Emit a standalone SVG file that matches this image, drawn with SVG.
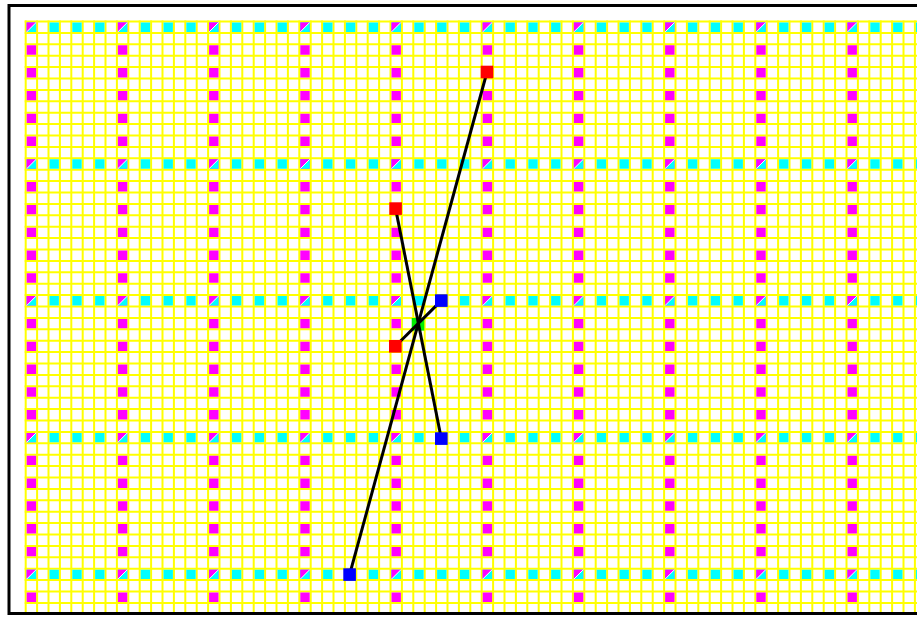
<svg xmlns="http://www.w3.org/2000/svg" width="917" height="617" viewBox="0 0 917 617">
<style>
.yl{stroke:#ffff00;stroke-dasharray:2 9.4;fill:none}
.edge{stroke:#000000;stroke-width:3;fill:none}
.red{fill:#ff0000}
.blue{fill:#0000ff}
.green{fill:#00ee00}
</style>
<defs>
<path id="mcol" fill="#ff00ff" d="M0 22.5h9.4v9.4h-9.4z m0 22.8h9.4v9.4h-9.4z m0 22.8h9.4v9.4h-9.4z m0 22.8h9.4v9.4h-9.4z m0 22.8h9.4v9.4h-9.4z m0 22.8h9.4v9.4h-9.4z m0 22.8h9.4v9.4h-9.4z m0 22.8h9.4v9.4h-9.4z m0 22.8h9.4v9.4h-9.4z m0 22.8h9.4v9.4h-9.4z m0 22.8h9.4v9.4h-9.4z m0 22.8h9.4v9.4h-9.4z m0 22.8h9.4v9.4h-9.4z m0 22.8h9.4v9.4h-9.4z m0 22.8h9.4v9.4h-9.4z m0 22.8h9.4v9.4h-9.4z m0 22.8h9.4v9.4h-9.4z m0 22.8h9.4v9.4h-9.4z m0 22.8h9.4v9.4h-9.4z m0 22.8h9.4v9.4h-9.4z m0 22.8h9.4v9.4h-9.4z m0 22.8h9.4v9.4h-9.4z m0 22.8h9.4v9.4h-9.4z m0 22.8h9.4v9.4h-9.4z m0 22.8h9.4v9.4h-9.4z m0 22.8h9.4v9.4h-9.4z"/>
<path id="crow" fill="#00ffff" d="M26.7 0h9.4v9.4h-9.4z m22.8 0h9.4v9.4h-9.4z m22.8 0h9.4v9.4h-9.4z m22.8 0h9.4v9.4h-9.4z m22.8 0h9.4v9.4h-9.4z m22.8 0h9.4v9.4h-9.4z m22.8 0h9.4v9.4h-9.4z m22.8 0h9.4v9.4h-9.4z m22.8 0h9.4v9.4h-9.4z m22.8 0h9.4v9.4h-9.4z m22.8 0h9.4v9.4h-9.4z m22.8 0h9.4v9.4h-9.4z m22.8 0h9.4v9.4h-9.4z m22.8 0h9.4v9.4h-9.4z m22.8 0h9.4v9.4h-9.4z m22.8 0h9.4v9.4h-9.4z m22.8 0h9.4v9.4h-9.4z m22.8 0h9.4v9.4h-9.4z m22.8 0h9.4v9.4h-9.4z m22.8 0h9.4v9.4h-9.4z m22.8 0h9.4v9.4h-9.4z m22.8 0h9.4v9.4h-9.4z m22.8 0h9.4v9.4h-9.4z m22.8 0h9.4v9.4h-9.4z m22.8 0h9.4v9.4h-9.4z m22.8 0h9.4v9.4h-9.4z m22.8 0h9.4v9.4h-9.4z m22.8 0h9.4v9.4h-9.4z m22.8 0h9.4v9.4h-9.4z m22.8 0h9.4v9.4h-9.4z m22.8 0h9.4v9.4h-9.4z m22.8 0h9.4v9.4h-9.4z m22.8 0h9.4v9.4h-9.4z m22.8 0h9.4v9.4h-9.4z m22.8 0h9.4v9.4h-9.4z m22.8 0h9.4v9.4h-9.4z m22.8 0h9.4v9.4h-9.4z m22.8 0h9.4v9.4h-9.4z m22.8 0h9.4v9.4h-9.4z m22.8 0h9.4v9.4h-9.4z"/>
<g id="corner">
<path d="M0 0H9.4L0 9.4Z" fill="#ff00ff"/>
<path d="M0 9.4L9.4 0" stroke="#ffffff" stroke-width="1"/>
</g>
</defs>
<rect x="0" y="0" width="917" height="617" fill="#ffffff"/>
<g id="grid">
<line class="yl" x1="24.7" y1="316.75" x2="917" y2="316.75" stroke-width="592.5"/>
<line class="yl" x1="470.85" y1="20.5" x2="470.85" y2="613" stroke-width="892.3"/>
<use href="#mcol" x="26.7"/><use href="#mcol" x="117.9"/><use href="#mcol" x="209.1"/><use href="#mcol" x="300.3"/><use href="#mcol" x="391.5"/><use href="#mcol" x="482.7"/><use href="#mcol" x="573.9"/><use href="#mcol" x="665.1"/><use href="#mcol" x="756.3"/><use href="#mcol" x="847.5"/>
<use href="#crow" y="22.5"/><use href="#crow" y="159.3"/><use href="#crow" y="296.1"/><use href="#crow" y="432.9"/><use href="#crow" y="569.7"/>
<use href="#corner" x="26.7" y="22.5"/><use href="#corner" x="117.9" y="22.5"/><use href="#corner" x="209.1" y="22.5"/><use href="#corner" x="300.3" y="22.5"/><use href="#corner" x="391.5" y="22.5"/><use href="#corner" x="482.7" y="22.5"/><use href="#corner" x="573.9" y="22.5"/><use href="#corner" x="665.1" y="22.5"/><use href="#corner" x="756.3" y="22.5"/><use href="#corner" x="847.5" y="22.5"/>
<use href="#corner" x="26.7" y="159.3"/><use href="#corner" x="117.9" y="159.3"/><use href="#corner" x="209.1" y="159.3"/><use href="#corner" x="300.3" y="159.3"/><use href="#corner" x="391.5" y="159.3"/><use href="#corner" x="482.7" y="159.3"/><use href="#corner" x="573.9" y="159.3"/><use href="#corner" x="665.1" y="159.3"/><use href="#corner" x="756.3" y="159.3"/><use href="#corner" x="847.5" y="159.3"/>
<use href="#corner" x="26.7" y="296.1"/><use href="#corner" x="117.9" y="296.1"/><use href="#corner" x="209.1" y="296.1"/><use href="#corner" x="300.3" y="296.1"/><use href="#corner" x="391.5" y="296.1"/><use href="#corner" x="482.7" y="296.1"/><use href="#corner" x="573.9" y="296.1"/><use href="#corner" x="665.1" y="296.1"/><use href="#corner" x="756.3" y="296.1"/><use href="#corner" x="847.5" y="296.1"/>
<use href="#corner" x="26.7" y="432.9"/><use href="#corner" x="117.9" y="432.9"/><use href="#corner" x="209.1" y="432.9"/><use href="#corner" x="300.3" y="432.9"/><use href="#corner" x="391.5" y="432.9"/><use href="#corner" x="482.7" y="432.9"/><use href="#corner" x="573.9" y="432.9"/><use href="#corner" x="665.1" y="432.9"/><use href="#corner" x="756.3" y="432.9"/><use href="#corner" x="847.5" y="432.9"/>
<use href="#corner" x="26.7" y="569.7"/><use href="#corner" x="117.9" y="569.7"/><use href="#corner" x="209.1" y="569.7"/><use href="#corner" x="300.3" y="569.7"/><use href="#corner" x="391.5" y="569.7"/><use href="#corner" x="482.7" y="569.7"/><use href="#corner" x="573.9" y="569.7"/><use href="#corner" x="665.1" y="569.7"/><use href="#corner" x="756.3" y="569.7"/><use href="#corner" x="847.5" y="569.7"/>
</g>
<rect id="frame" x="9" y="5.5" width="1000" height="608" fill="none" stroke="#000000" stroke-width="3"/>
<g id="node-center"><rect class="green" x="411.7" y="318" width="12.6" height="12.6"/></g>
<g id="connectors">
<line class="edge" x1="487" y1="72" x2="349.6" y2="574.6"/>
<line class="edge" x1="395.6" y1="208.6" x2="441.3" y2="438.6"/>
<line class="edge" x1="395.3" y1="346.3" x2="441.3" y2="300.6"/>
</g>
<g id="node-red-1"><rect class="red" x="480.7" y="65.7" width="12.6" height="12.6"/></g>
<g id="node-red-2"><rect class="red" x="389.3" y="202.3" width="12.6" height="12.6"/></g>
<g id="node-red-3"><rect class="red" x="389" y="340" width="12.6" height="12.6"/></g>
<g id="node-blue-1"><rect class="blue" x="435" y="294.3" width="12.6" height="12.6"/></g>
<g id="node-blue-2"><rect class="blue" x="435" y="432.3" width="12.6" height="12.6"/></g>
<g id="node-blue-3"><rect class="blue" x="343.3" y="568.3" width="12.6" height="12.6"/></g>
</svg>
